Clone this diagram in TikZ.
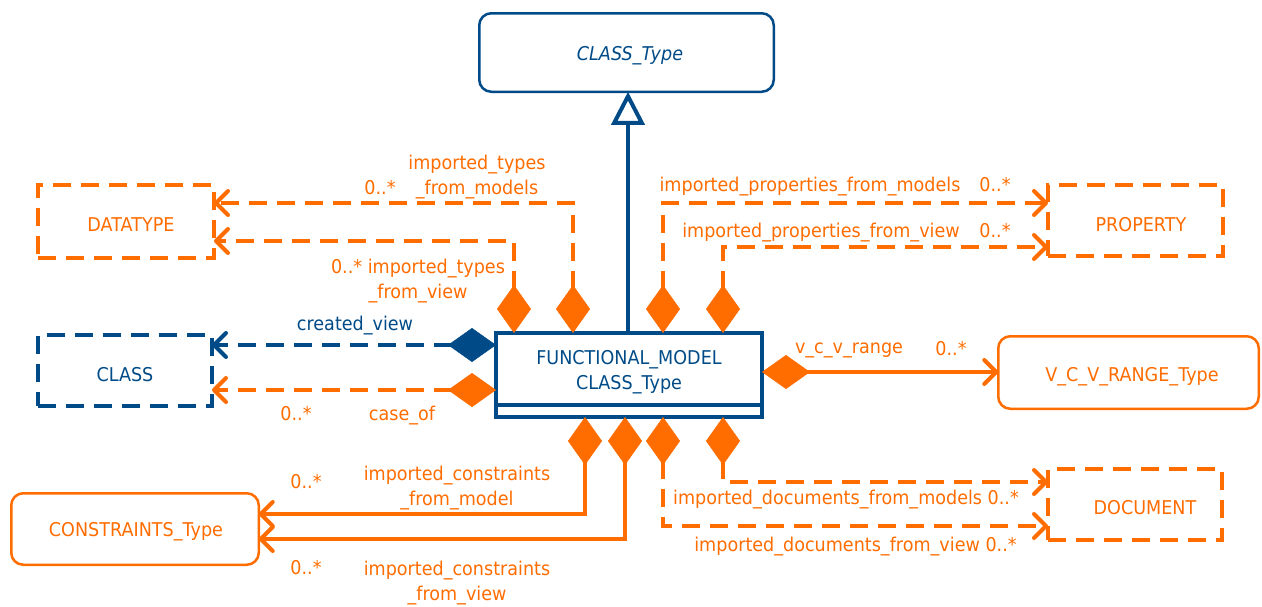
\documentclass[tikz,border=0pt]{standalone}
\usepackage{fontspec}
\setmainfont{DejaVu Sans}[FakeStretch=0.925]
\usetikzlibrary{arrows.meta}
\definecolor{umlblue}{RGB}{0,75,135}
\definecolor{umlorange}{RGB}{255,108,0}
% nudge a centred class name to the right by half the given amount
\newcommand{\nudge}[1]{\hspace*{#1}}
\begin{document}
\begin{tikzpicture}[x=1pt,y=-1pt,
  every node/.style={font=\fontsize{19}{25}\selectfont, outer sep=0pt, inner sep=0pt},
  solidbox/.style={draw, line width=2.5pt, rounded corners=12pt},
  dashbox/.style={draw, line width=4pt, dash pattern=on 18pt off 10pt},
  tup/.style={text height=#1, text depth=0pt},
  link/.style={line width=4pt},
  dashedlink/.style={link, dash pattern=on 18pt off 10pt},
  comp/.style={{Diamond[length=48pt,width=34pt,line width=0.5pt]}-{Straight Barb[round,length=12pt,width=24pt]}},
  lbl/.style={align=center, yshift=-2.5pt},
  mult/.style={yshift=-1pt}
]
\useasboundingbox (0,0) rectangle (1262,606);

% classes
\node[solidbox, umlblue, tup=16pt, minimum width=294.5pt, minimum height=78.5pt] (ct) at (626.5,52.5) {\nudge{7pt}\itshape CLASS\_Type};
\node[draw, umlblue, line width=4pt, minimum width=266pt, minimum height=72pt] (fm) at (629,369) {};
\node[umlblue, align=center] (fmname) at ([yshift=-3pt]fm.center) {FUNCTIONAL\_MODEL\\CLASS\_Type};
\node[draw, umlblue, line width=4pt, minimum width=266pt, minimum height=12pt, anchor=north] (fmb) at (fm.south) {};
\node[dashbox, umlorange, tup=20.9pt, minimum width=176pt, minimum height=73pt] (dt) at (126,221.5) {\nudge{10pt}DATATYPE};
\node[dashbox, umlblue, tup=21.3pt, minimum width=174pt, minimum height=71pt] (cls) at (125,370.5) {CLASS};
\node[dashbox, umlorange, tup=22.9pt, minimum width=175pt, minimum height=71pt] (prop) at (1135.5,220.5) {\nudge{11pt}PROPERTY};
\node[dashbox, umlorange, tup=20.9pt, minimum width=174pt, minimum height=71pt] (doc) at (1135,504.5) {\nudge{20pt}DOCUMENT};
\node[solidbox, umlorange, tup=18.3pt, minimum width=260.5pt, minimum height=72.5pt] (vcv) at (1128.5,372.5) {\nudge{7pt}V\_C\_V\_RANGE\_Type};
\node[solidbox, umlorange, tup=14.3pt, minimum width=247.5pt, minimum height=71.5pt] (cons) at (135,529) {\nudge{2pt}CONSTRAINTS\_Type};

% generalization
\draw[link, umlblue, -{Triangle[open,length=33pt,width=33pt]}] ([xshift=-1pt]fm.north) -- ([xshift=-1pt]fm.north |- ct.south);

% compositions
\draw[dashedlink, comp, umlorange] ([xshift=77pt]fm.north west) |- ([yshift=18.5pt]dt.east);
\draw[dashedlink, comp, umlorange] ([xshift=18pt]fm.north west) |- ([yshift=-19.5pt]dt.east);
\draw[dashedlink, comp, umlorange] ([xshift=167pt]fm.north west) |- ([yshift=17.5pt]prop.west);
\draw[dashedlink, comp, umlorange] ([xshift=227pt]fm.north west) |- ([yshift=-26.5pt]prop.west);
\draw[dashedlink, comp, umlblue] ([yshift=24pt]fm.west) -- ([yshift=24pt]fm.west -| cls.east);
\draw[dashedlink, comp, umlorange] ([yshift=-21pt]fm.west) -- ([yshift=-21pt]fm.west -| cls.east);
\draw[link, comp, umlorange] ([yshift=-3pt]fm.east) -- ([yshift=-3pt]fm.east -| vcv.west);
\draw[link, comp, umlorange] ([xshift=89pt]fmb.south west) |- ([yshift=15pt]cons.east);
\draw[link, comp, umlorange] ([xshift=129pt]fmb.south west) |- ([yshift=-10pt]cons.east);
\draw[dashedlink, comp, umlorange] ([xshift=227pt]fmb.south west) |- ([yshift=22.5pt]doc.west);
\draw[dashedlink, comp, umlorange] ([xshift=167pt]fmb.south west) |- ([yshift=-21.5pt]doc.west);

% role names and multiplicities
\node[lbl, umlorange] (l1) at (477,175) {imported\_types\\\_from\_models};
\node[mult, umlorange] (m1) at (380,187) {0..*};
\node[lbl, umlorange] (l2) at (418,278.5) {0..* imported\_types\\\_from\_view};
\node[lbl, umlblue] (l3) at (355,323) {created\_view};
\node[mult, umlorange] (m3) at (296,413) {0..*};
\node[lbl, umlorange] (l4) at (402,413) {case\_of};
\node[lbl, umlorange] (l5) at (810,184) {imported\_properties\_from\_models};
\node[mult, umlorange] (m5) at (995,184) {0..*};
\node[lbl, umlorange] (l6) at (821,230) {imported\_properties\_from\_view};
\node[mult, umlorange] (m6) at (995,230) {0..*};
\node[lbl, umlorange] (l7) at (849,348) {v\_c\_v\_range};
\node[mult, umlorange] (m7) at (951,348) {0..*};
\node[lbl, umlorange] (l8) at (846,497) {imported\_documents\_from\_models 0..*};
\node[lbl, umlorange] (l9) at (855.5,544) {imported\_documents\_from\_view 0..*};
\node[mult, umlorange] (m10) at (306,481) {0..*};
\node[lbl, umlorange] (l10) at (457,485.5) {imported\_constraints\\\_from\_model};
\node[mult, umlorange] (m11) at (306,567) {0..*};
\node[lbl, umlorange] (l11) at (457,581) {imported\_constraints\\\_from\_view};
\end{tikzpicture}
\end{document}
